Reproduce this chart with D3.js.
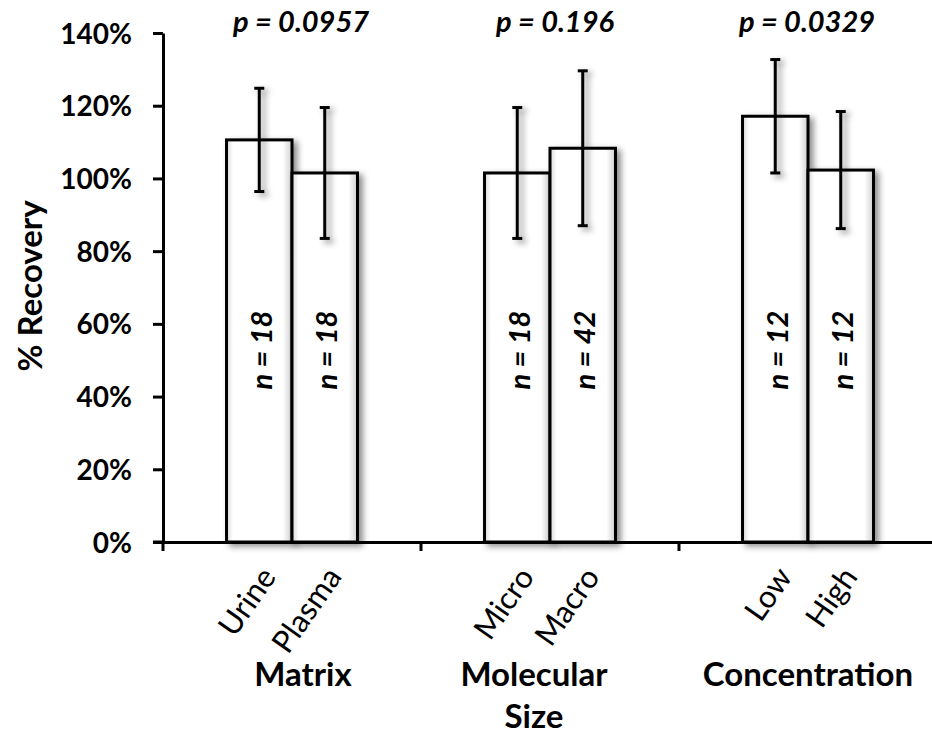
<!DOCTYPE html>
<html>
<head>
<meta charset="utf-8">
<script src="https://cdn.jsdelivr.net/npm/d3@7"></script>
<style>
  body { margin: 0; background: #fff; }
  text { font-family: Lato, "Open Sans", sans-serif; fill: #000; }
</style>
</head>
<body>
<div id="chart"></div>
<script>
// % recovery by group, two bars per group, +/- error bars

var groups = ["Matrix", "Molecular Size", "Concentration"],
    groupLines = [["Matrix"], ["Molecular", "Size"], ["Concentration"]],
    pLabels = ["p = 0.0957", "p = 0.196", "p = 0.0329"],
    barNames = [["Urine", "Plasma"], ["Micro", "Macro"], ["Low", "High"]],
    means = [[110.6, 101.5], [101.5, 108.3], [117.1, 102.3]],
    errs = [[14.2, 18.0], [18.0, 21.3], [15.6, 16.1]],
    nCounts = [[18, 18], [18, 42], [12, 12]],
    yTicks = [0, 20, 40, 60, 80, 100, 120, 140];

// small nudges so the group texts sit where the original puts them
var groupShift = [11, -16, 0],
    pShift = [9, 5, -1];

var width = 932, height = 735;

var svg = d3.select("#chart").append("svg")
    .attr("width", width)
    .attr("height", height);

var defs = svg.append("defs");
var shadow = defs.append("filter").attr("id", "shadow")
    .attr("x", "-20%").attr("y", "-10%").attr("width", "150%").attr("height", "130%");
shadow.append("feDropShadow")
    .attr("dx", 4).attr("dy", 3).attr("stdDeviation", 3)
    .attr("flood-color", "#000").attr("flood-opacity", 0.45);

var grad = defs.append("linearGradient").attr("id", "bevel")
    .attr("x1", "0%").attr("x2", "100%").attr("y1", "0%").attr("y2", "0%");
grad.append("stop").attr("offset", "0%").attr("stop-color", "#d8d8d8");
grad.append("stop").attr("offset", "10%").attr("stop-color", "#fff");
grad.append("stop").attr("offset", "86%").attr("stop-color", "#fff");
grad.append("stop").attr("offset", "100%").attr("stop-color", "#d0d0d0");

var x = d3.scaleBand().domain(groups).range([163, 937]).padding(0);
var xi = d3.scaleBand().domain([0, 1]).range([0, x.bandwidth()])
    .paddingInner(0).paddingOuter(0.97);
var y = d3.scaleLinear().domain([0, 140]).range([542, 33]);

// y axis
var yAxis = svg.append("g")
    .attr("transform", "translate(163,0)")
    .call(d3.axisLeft(y).tickValues(yTicks).tickSize(10).tickSizeOuter(0)
      .tickFormat(function(d){ return d + "%"; }));
yAxis.selectAll("path, line").attr("stroke", "#000").attr("stroke-width", 3);
yAxis.selectAll("text")
    .attr("x", -31)
    .style("font-size", "28px").style("font-weight", "700")
    .attr("dy", "0.36em");

svg.append("text")
    .attr("transform", "translate(42,286) rotate(-90)")
    .attr("text-anchor", "middle")
    .style("font-size", "33px").style("font-weight", "700")
    .text("% Recovery");

// bars
var data = [];
groups.forEach(function(g, gi){
  for (var k = 0; k < 2; k++){
    data.push({g: g, gi: gi, k: k, name: barNames[gi][k], mean: means[gi][k],
               err: errs[gi][k], n: nCounts[gi][k]});
  }
});
function cx(d){ return x(d.g) + xi(d.k) + xi.bandwidth() / 2; }

svg.append("g").selectAll("rect").data(data).enter().append("rect")
    .attr("x", function(d){ return x(d.g) + xi(d.k); })
    .attr("y", function(d){ return y(d.mean); })
    .attr("width", xi.bandwidth())
    .attr("height", function(d){ return y(0) - y(d.mean); })
    .attr("fill", "url(#bevel)")
    .attr("stroke", "#000").attr("stroke-width", 3)
    .attr("filter", "url(#shadow)");

// x axis line and group boundary ticks
var xAxis = svg.append("g")
    .attr("transform", "translate(0,542)")
    .call(d3.axisBottom(x).tickValues([]).tickSizeOuter(0));
xAxis.select("path").attr("stroke", "#000").attr("stroke-width", 3);
svg.append("line")
    .attr("x1", 153).attr("x2", 163).attr("y1", 542).attr("y2", 542)
    .attr("stroke", "#000").attr("stroke-width", 3);
svg.append("g").selectAll("line").data(groups).enter().append("line")
    .attr("x1", function(d){ return x(d); }).attr("x2", function(d){ return x(d); })
    .attr("y1", 542).attr("y2", 551)
    .attr("stroke", "#000").attr("stroke-width", 3);

// error bars
var eb = svg.append("g").attr("filter", "url(#shadow)")
    .selectAll("g").data(data).enter().append("g");
eb.append("line")
    .attr("x1", cx).attr("x2", cx)
    .attr("y1", function(d){ return y(d.mean + d.err); })
    .attr("y2", function(d){ return y(d.mean - d.err); })
    .attr("stroke", "#000").attr("stroke-width", 3);
[1, -1].forEach(function(s){
  eb.append("line")
    .attr("x1", function(d){ return cx(d) - 5; })
    .attr("x2", function(d){ return cx(d) + 5; })
    .attr("y1", function(d){ return y(d.mean + s * d.err); })
    .attr("y2", function(d){ return y(d.mean + s * d.err); })
    .attr("stroke", "#000").attr("stroke-width", 3);
});

// n = labels inside bars
svg.append("g").selectAll("text").data(data).enter().append("text")
    .attr("transform", function(d){ return "translate(" + (cx(d) + 2) + ",350) rotate(-90)"; })
    .attr("text-anchor", "middle")
    .attr("dy", "0.36em")
    .style("font-size", "29px").style("font-weight", "700").style("font-style", "italic")
    .text(function(d){ return "n = " + d.n; });

// p values on top
svg.append("g").selectAll("text").data(groups).enter().append("text")
    .attr("x", function(d, i){ return x(d) + x.bandwidth() / 2 + pShift[i]; })
    .attr("y", 32)
    .attr("text-anchor", "middle")
    .style("font-size", "29px").style("font-weight", "700").style("font-style", "italic")
    .text(function(d, i){ return pLabels[i]; });

// slanted bar names
svg.append("g").selectAll("text").data(data).enter().append("text")
    .attr("transform", function(d){ return "translate(" + (cx(d) + 18) + ",577) rotate(-55)"; })
    .attr("text-anchor", "end")
    .style("font-size", "31px")
    .text(function(d){ return d.name; });

// group titles
groupLines.forEach(function(lines, i){
  svg.append("text")
    .attr("x", x(groups[i]) + x.bandwidth() / 2 + groupShift[i])
    .attr("y", 686)
    .attr("text-anchor", "middle")
    .style("font-size", "33px").style("font-weight", "700")
    .selectAll("tspan").data(lines).enter().append("tspan")
      .attr("x", x(groups[i]) + x.bandwidth() / 2 + groupShift[i])
      .attr("dy", function(d, j){ return j ? 42 : 0; })
      .text(function(d){ return d; });
});
</script>
</body>
</html>
